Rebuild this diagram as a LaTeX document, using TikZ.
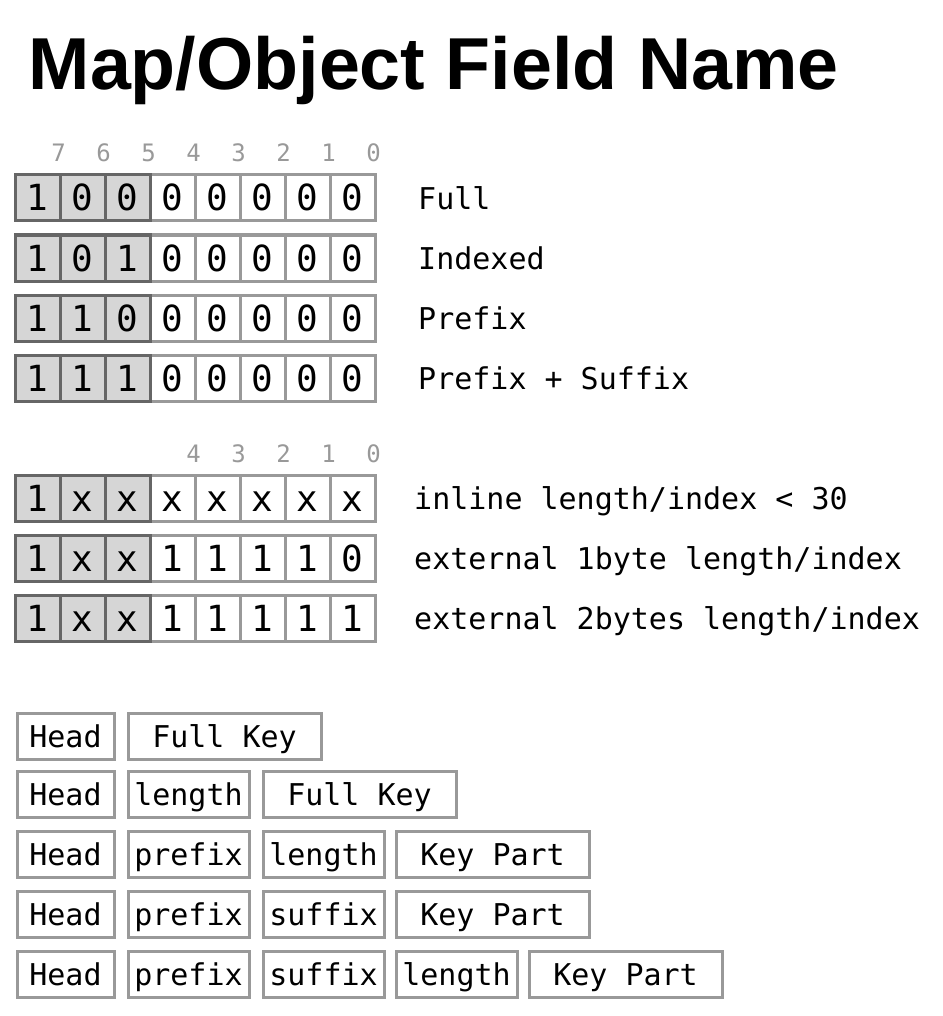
\documentclass[tikz,border=0pt]{standalone}
\usepackage{fontspec}
\setmonofont{DejaVu Sans Mono}
\newfontfamily\titlefont{Liberation Sans}
\definecolor{lgray}{HTML}{999999}
\definecolor{dgray}{HTML}{666666}
\definecolor{cellfill}{HTML}{D6D6D6}
\newcommand{\cellfont}{\ttfamily\fontsize{36}{40}\selectfont}
\newcommand{\labfont}{\ttfamily\fontsize{30}{36}\selectfont}
\newcommand{\numfont}{\ttfamily\fontsize{24}{28}\selectfont}
\tikzset{
  bitcell/.style={draw=lgray, fill=white, line width=3pt, minimum width=45pt, minimum height=46pt,
    inner sep=0pt, outer sep=0pt, font=\cellfont, text height=26pt, text depth=0pt},
  hicell/.style={bitcell, draw=dgray, fill=cellfill},
  bitnum/.style={anchor=base, inner sep=0pt, text=lgray, font=\numfont},
  rowlabel/.style={anchor=base west, inner sep=0pt, font=\labfont},
  fieldbox/.style={draw=lgray, line width=3pt, minimum height=46pt, inner sep=0pt, outer sep=0pt,
    font=\labfont, text height=22pt, text depth=0pt},
  smallbox/.style={fieldbox, minimum width=121pt},
  headbox/.style={fieldbox, minimum width=97pt},
  keybox/.style={fieldbox, minimum width=193pt}
}
\begin{document}
\begin{tikzpicture}[x=1pt,y=-1pt]
\useasboundingbox[fill=white] (0,0) rectangle (942,1016);
% title
\node[anchor=base west, inner sep=0pt, font=\titlefont\bfseries\fontsize{73.6}{80}\selectfont] (title) at (28.5,89.5) {Map/Object Field Name};
% bit numbers, first block
\foreach \n [count=\i from 0] in {7,6,5,4,3,2,1,0}
  \node[bitnum] (na\i) at (58.5+45*\i,162) {\n};
% first block rows
\foreach \row/\y/\a/\b/\c/\lab in {1/198/1/0/0/Full, 2/258/1/0/1/Indexed, 3/318/1/1/0/Prefix, 4/378/1/1/1/Prefix + Suffix}{
  \foreach \i in {3,...,7}
    \node[bitcell] (a\row c\i) at (37.5+45*\i,\y) {0};
  \node[hicell] (a\row c0) at (37.5,\y) {\a};
  \node[hicell] (a\row c1) at (82.5,\y) {\b};
  \node[hicell] (a\row c2) at (127.5,\y) {\c};
  \node[rowlabel] (a\row lab) at (418,\y+11.5) {\lab};
}
% bit numbers, second block
\foreach \n [count=\i from 3] in {4,3,2,1,0}
  \node[bitnum] (nb\i) at (58.5+45*\i,462) {\n};
% second block rows
\foreach \row/\y/\d/\e/\f/\g/\h/\lab in {1/498/x/x/x/x/x/{inline length/index < 30}, 2/558/1/1/1/1/0/{external 1byte length/index}, 3/618/1/1/1/1/1/{external 2bytes length/index}}{
  \node[bitcell] (b\row c3) at (172.5,\y) {\d};
  \node[bitcell] (b\row c4) at (217.5,\y) {\e};
  \node[bitcell] (b\row c5) at (262.5,\y) {\f};
  \node[bitcell] (b\row c6) at (307.5,\y) {\g};
  \node[bitcell] (b\row c7) at (352.5,\y) {\h};
  \node[hicell] (b\row c0) at (37.5,\y) {1};
  \node[hicell] (b\row c1) at (82.5,\y) {x};
  \node[hicell] (b\row c2) at (127.5,\y) {x};
  \node[rowlabel] (b\row lab) at (414,\y+11.5) {\lab};
}
% field layouts
\node[headbox] (r1h) at (65.5,736) {Head};
\node[keybox]  (r1k) at (224.5,736) {Full Key};

\node[headbox]  (r2h) at (65.5,794) {Head};
\node[smallbox] (r2l) at (188.5,794) {length};
\node[keybox]   (r2k) at (359.5,794) {Full Key};

\node[headbox]  (r3h) at (65.5,854) {Head};
\node[smallbox] (r3p) at (188.5,854) {prefix};
\node[smallbox] (r3l) at (323.5,854) {length};
\node[keybox]   (r3k) at (492.5,854) {Key Part};

\node[headbox]  (r4h) at (65.5,914) {Head};
\node[smallbox] (r4p) at (188.5,914) {prefix};
\node[smallbox] (r4s) at (323.5,914) {suffix};
\node[keybox]   (r4k) at (492.5,914) {Key Part};

\node[headbox]  (r5h) at (65.5,974) {Head};
\node[smallbox] (r5p) at (188.5,974) {prefix};
\node[smallbox] (r5s) at (323.5,974) {suffix};
\node[smallbox] (r5l) at (456.5,974) {length};
\node[keybox]   (r5k) at (625.5,974) {Key Part};
\end{tikzpicture}
\end{document}
